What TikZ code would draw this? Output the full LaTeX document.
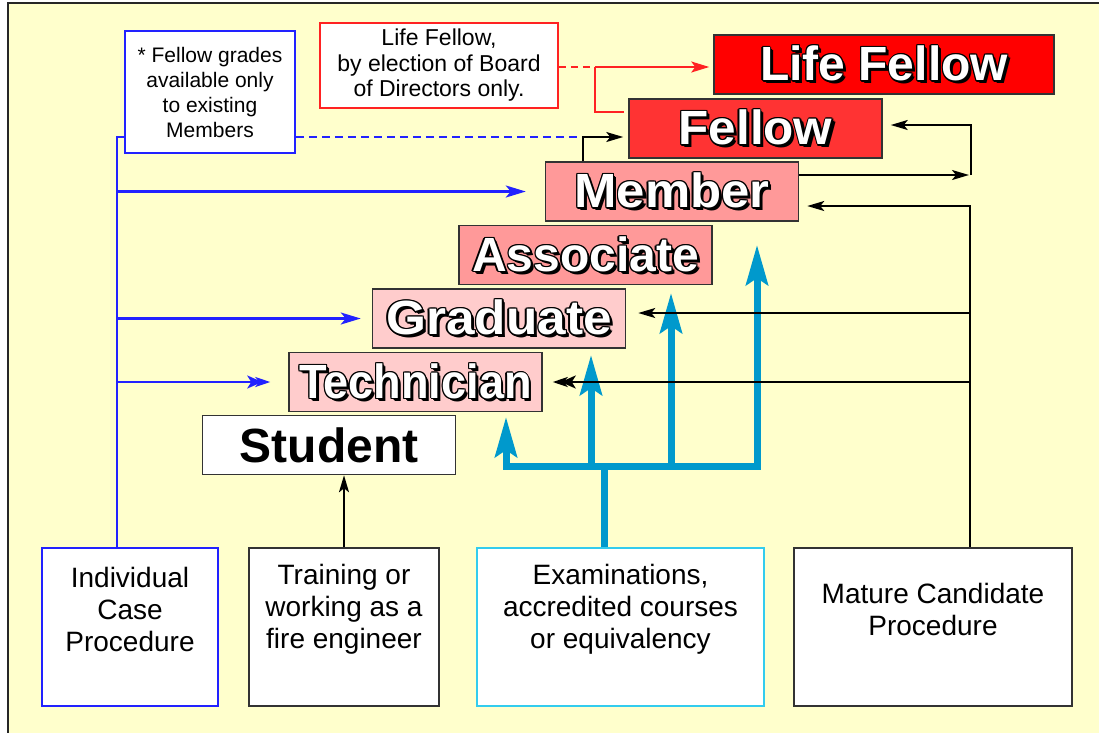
\documentclass[tikz,border=0pt]{standalone}
\usepackage{fontspec}
\setmainfont{Liberation Sans}
\usepackage{tikz}
\usetikzlibrary{arrows.meta}

\definecolor{paper}{HTML}{FFFFCC}
\definecolor{lifered}{HTML}{FF0000}
\definecolor{fellowred}{HTML}{FF3333}
\definecolor{midpink}{HTML}{FF9999}
\definecolor{lightpink}{HTML}{FFCCCC}
\definecolor{routecyan}{HTML}{0099CC}
\definecolor{examedge}{HTML}{33CCEE}
\definecolor{noteblue}{HTML}{2222FF}
\definecolor{notered}{HTML}{FF2222}

% white letters with a black rim and a drop shadow
\newcommand\shifted[3]{\rlap{\hspace*{#1}\raisebox{#2}{#3}}}
\newcommand\gradetext[1]{{\color{black}%
  \shifted{3pt}{-3pt}{#1}\shifted{2pt}{-2pt}{#1}%
  \shifted{-1.3pt}{0pt}{#1}\shifted{1.3pt}{0pt}{#1}%
  \shifted{0pt}{1.3pt}{#1}\shifted{0pt}{-1.3pt}{#1}%
  \shifted{-0.9pt}{0.9pt}{#1}\shifted{0.9pt}{0.9pt}{#1}%
  \shifted{-0.9pt}{-0.9pt}{#1}\shifted{0.9pt}{-0.9pt}{#1}}%
  \textcolor{white}{#1}}

\begin{document}
\begin{tikzpicture}[x=1pt,y=-1pt,
	grade box/.style={draw=black!80,line width=1.5pt,inner sep=0pt,minimum width=253pt,minimum height=59pt,font=\fontsize{48}{50}\selectfont\bfseries},
	route box/.style={draw=black!80,fill=white,line width=2pt,inner sep=0pt,minimum height=158pt},
	route text/.style={align=center,font=\fontsize{28}{32}\selectfont},
	note box/.style={fill=white,line width=1.5pt,align=center,inner sep=0pt,font=\fontsize{21}{25}\selectfont},
	>={Stealth[length=17pt,width=10pt,inset=4pt]},
	link/.style={line width=2pt},
	blue link/.style={noteblue,line width=2.5pt,>={Stealth[length=20pt,width=12pt,inset=5pt]}},
	red link/.style={notered,line width=2pt,>={Stealth[length=18pt,width=11pt,inset=4pt]}},
	route/.style={routecyan,line width=7pt},
	route arrow/.style={route,-{Stealth[length=40pt,width=22pt,inset=7pt]}},
	double tip/.style={-{Stealth[length=15pt,width=13pt,inset=4pt,sep=-7pt]Stealth[length=15pt,width=10pt,inset=4pt]}}]
	\useasboundingbox (0,0) rectangle (1099,732);
	\fill[paper] (8,3) rectangle (1110,740);
	\draw[black!85,line width=2.5pt] (8,740) -- (8,3) -- (1110,3);
	
	% grades
	\node[grade box,fill=white] (student) at (329,445) {Student};
	\node[grade box,fill=lightpink] (technician) at (415.5,382) {\scalebox{0.94}[1]{\gradetext{Technician}}};
	\node[grade box,fill=lightpink] (graduate) at (499,318.5) {\scalebox{1.07}[1]{\gradetext{Graduate}}};
	\node[grade box,fill=midpink] (associate) at (585.5,255) {\gradetext{Associate}};
	\node[grade box,fill=midpink] (member) at (672,191.5) {\scalebox{1.06}[1]{\gradetext{Member}}};
	\node[grade box,fill=fellowred] (fellow) at (755.5,128.5) {\scalebox{1.03}[1]{\gradetext{Fellow}}};
	\node[grade box,fill=lifered,minimum width=340pt] (lifefellow) at (884,64.5) {\gradetext{Life Fellow}};
	
	% notes
	\node[note box,draw=noteblue,minimum width=170pt,minimum height=122pt] (gradenote) at (210,92) {* Fellow grades\\available only\\to existing\\Members};
	\node[note box,draw=notered,minimum width=238pt,minimum height=85pt,font=\fontsize{23}{25.5}\selectfont] (lifenote) at (439,65.5) {Life Fellow,\\by election of Board\\of Directors only.};
	
	% routes
	\node[route box,draw=noteblue,line width=1.5pt,minimum width=176pt] (individual) at (130,627) {};
	\node[route box,minimum width=190pt] (training) at (344,627) {};
	\node[route box,draw=examedge,line width=1.5pt,minimum width=287pt] (exams) at (620.5,627) {};
	\node[route box,minimum width=278pt] (mature) at (933,627) {};
	\node[route text] (individualtext) at ([yshift=18pt]individual.center) {Individual\\Case\\Procedure};
	\node[route text] (trainingtext) at ([yshift=18pt]training.center) {Training or\\working as a\\fire engineer};
	\node[route text] (examstext) at ([yshift=18pt]exams.center) {Examinations,\\accredited courses\\or equivalency};
	\node[route text] (maturetext) at ([yshift=18pt]mature.center) {Mature Candidate\\Procedure};
	
	% examinations
	\coordinate (examjoin) at (604,466);
	\draw[route] (exams.north -| examjoin) -- (examjoin);
	\draw[route arrow] (examjoin) -| (506,417);
	\draw[route arrow] (examjoin) -| (757,245);
	\draw[route arrow] (591,466) -- (591,355);
	\draw[route arrow] (671,466) -- (671,293);
	
	% individual case
	\coordinate (bluebus) at (117,137);
	\draw[blue link] (individual.north -| bluebus) -- (bluebus) -- (gradenote.west |- bluebus);
	\draw[blue link,dash pattern=on 8pt off 5pt] (gradenote.east |- bluebus) -- (583,137) coordinate (memberjoin);
	\draw[blue link,->,shorten >=19pt] (bluebus |- member.west) -- (member.west);
	\draw[blue link,->,shorten >=11pt] (bluebus |- graduate.west) -- (graduate.west);
	\draw[blue link,double tip,shorten >=18pt] (bluebus |- technician.west) -- (technician.west);
	\draw[link,->,shorten >=5pt] (member.north -| memberjoin) -- (memberjoin) -- (fellow.west |- memberjoin);
	
	% life fellow
	\coordinate (redjoin) at (595,67);
	\coordinate (redfoot) at (595,112);
	\draw[red link,dash pattern=on 7pt off 5pt] (lifenote.east |- redjoin) -- (redjoin);
	\draw[red link,->,shorten >=4pt] (redjoin) -- (lifefellow.west |- redjoin);
	\draw[red link] (redjoin) -- (redfoot) -- ([xshift=-4pt]fellow.west |- redfoot);
	
	% member to fellow
	\coordinate (upturn) at (971,175);
	\coordinate (uptop) at (971,125);
	\draw[link,->,shorten >=2pt] ([yshift=16.5pt]member.east) -- (upturn);
	\draw[link,->,shorten >=8pt] (upturn) -- (uptop) -- (fellow.east |- uptop);
	
	% mature candidate
	\coordinate (maturebus) at (970,206);
	\coordinate (gradlevel) at (970,313);
	\draw[link,->,shorten >=8pt] (mature.north -| maturebus) -- (maturebus) -- (member.east |- maturebus);
	\draw[link,->,shorten >=12pt] (gradlevel) -- (graduate.east |- gradlevel);
	\draw[link,double tip,line width=2.5pt,shorten >=10pt] (maturebus |- technician.east) -- (technician.east);
	
	% training
	\draw[link,->] (training.north) -- (training.north |- student.south);
\end{tikzpicture}
\end{document}
